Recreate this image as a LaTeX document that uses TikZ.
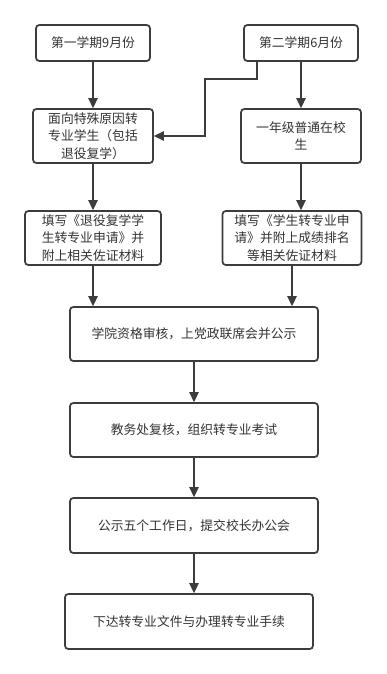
\documentclass[tikz,border=0pt]{standalone}
\usepackage{fontspec}
\setmainfont{Noto Sans CJK SC}
\usetikzlibrary{arrows.meta,calc}
\definecolor{linec}{HTML}{3C3C3C}
\definecolor{textc}{HTML}{333333}
\begin{document}
\begin{tikzpicture}[x=0.75pt,y=-0.75pt,
  box/.style={draw=linec,line width=1.3pt,rounded corners=2.5pt,fill=white,
    text=textc,align=center,inner sep=0pt,
    font=\fontsize{9.6}{13.1}\selectfont},
  arr/.style={draw=linec,line width=1.3pt,-{Triangle[length=7.5pt,width=7pt]}}]
\fill[white] (0,0) rectangle (386,674);
\useasboundingbox (0,0) rectangle (386,674);
\node[box,minimum width=85.5pt,minimum height=27pt] (A) at (93,43) {第一学期9月份};
\node[box,minimum width=85.5pt,minimum height=27pt] (B) at (301,43) {第二学期6月份};
\node[box,minimum width=90pt,minimum height=40.5pt] (C) at (93,136) {面向特殊原因转\\专业学生（包括\\退役复学）};
\node[box,minimum width=90pt,minimum height=40.5pt] (D) at (301,136) {一年级普通在校\\生};
\node[box,minimum width=102pt,minimum height=40.5pt] (E) at (93,238) {填写《退役复学学\\生转专业申请》并\\附上相关佐证材料};
\node[box,minimum width=104.25pt,minimum height=40.5pt] (F) at (292,238) {填写《学生转专业申\\请》并附上成绩排名\\等相关佐证材料};
\node[box,minimum width=186pt,minimum height=40.5pt] (G) at (194,334) {学院资格审核，上党政联席会并公示};
\node[box,minimum width=186pt,minimum height=40.5pt] (H) at (194,430) {教务处复核，组织转专业考试};
\node[box,minimum width=186pt,minimum height=41.25pt] (I) at (194,525.5) {公示五个工作日，提交校长办公会};
\node[box,minimum width=186pt,minimum height=41.25pt] (J) at (189,621.5) {下达转专业文件与办理转专业手续};
\draw[arr] (A.south) -- (C.north);
\draw[arr] (B.south) -- (D.north);
\draw[arr] ([xshift=-33pt]B.south) -- ++(0,17) -- ++(-52,0) |- (C.east);
\draw[arr] (C.south) -- (E.north);
\draw[arr] (D.south) -- (D.south |- F.north);
\draw[arr] (E.south) -- (E.south |- G.north);
\draw[arr] (F.south) -- (F.south |- G.north);
\draw[arr] (G.south) -- (H.north);
\draw[arr] (H.south) -- (I.north);
\draw[arr] (I.south) -- (I.south |- J.north);
\end{tikzpicture}
\end{document}
